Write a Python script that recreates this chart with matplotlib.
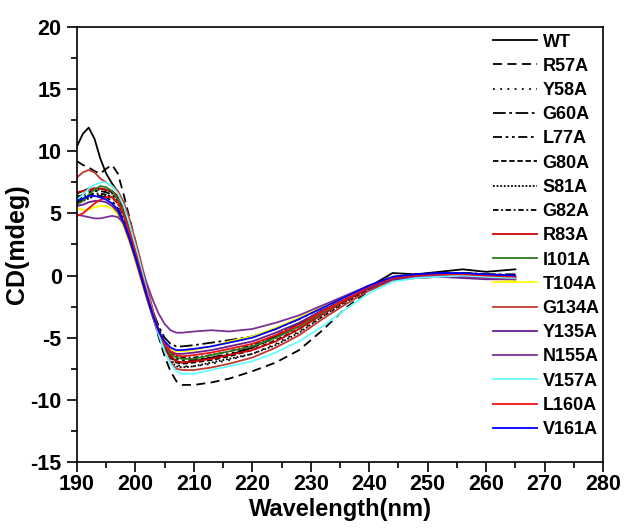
import matplotlib
matplotlib.use("Agg")
import matplotlib.pyplot as plt
from matplotlib.ticker import MultipleLocator

plt.rcParams['font.family'] = ['Liberation Sans', 'DejaVu Sans']
plt.rcParams['font.weight'] = 'bold'
plt.rcParams['axes.unicode_minus'] = False

# wavelength grid (nm)
wl = [190, 191, 192, 193, 194, 195, 196, 197, 198, 199, 200, 201, 202, 203, 204,
      205, 206, 207, 208, 210, 213, 216, 220, 224, 228, 232, 236, 240, 244, 248,
      252, 256, 260, 265]

# CD signal (mdeg) for each mutant
WT = [10.4, 11.4, 11.9, 11.0, 9.4, 8.2, 7.4, 6.7, 5.4, 3.8, 2.2, 0.5, -1.3, -3.0, -4.6,
      -5.8, -6.5, -6.9, -7.0, -6.9, -6.6, -6.4, -5.8, -4.9, -3.9, -2.8, -1.9, -0.9, 0.2, 0.1,
      0.3, 0.5, 0.3, 0.5]
R57A = [9.2, 8.9, 8.7, 8.4, 8.2, 8.6, 8.9, 8.2, 6.5, 4.6, 2.7, 0.8, -1.2, -3.2, -5.0,
        -6.5, -7.7, -8.5, -8.8, -8.8, -8.6, -8.3, -7.7, -7.0, -6.0, -4.4, -2.6, -1.2, -0.3, -0.1,
        0.0, 0.1, 0.0, -0.1]
Y58A = [6.4, 6.6, 6.8, 6.9, 6.9, 6.8, 6.6, 6.0, 5.0, 3.6, 2.0, 0.3, -1.5, -3.2, -4.8,
        -6.0, -6.8, -7.2, -7.3, -7.3, -7.1, -6.8, -6.3, -5.5, -4.5, -3.3, -2.2, -1.1, -0.3, -0.1,
        0.1, 0.2, 0.1, 0.0]
G60A = [5.9, 6.1, 6.3, 6.4, 6.4, 6.3, 6.0, 5.4, 4.4, 3.1, 1.6, 0.0, -1.5, -2.9, -4.1,
        -5.0, -5.5, -5.7, -5.7, -5.6, -5.4, -5.2, -4.9, -4.3, -3.5, -2.6, -1.7, -0.8, -0.1, 0.1,
        0.2, 0.2, 0.1, 0.1]
L77A = [6.3, 6.5, 6.7, 6.8, 6.8, 6.7, 6.5, 6.0, 5.0, 3.6, 2.0, 0.3, -1.4, -3.0, -4.5,
        -5.6, -6.3, -6.7, -6.8, -6.8, -6.6, -6.3, -5.8, -5.0, -4.1, -3.0, -2.0, -1.0, -0.2, 0.0,
        0.1, 0.2, 0.1, 0.0]
G80A = [6.6, 6.8, 7.0, 7.0, 7.0, 6.9, 6.7, 6.2, 5.2, 3.8, 2.2, 0.5, -1.3, -3.0, -4.6,
        -5.8, -6.6, -7.0, -7.1, -7.0, -6.8, -6.5, -6.0, -5.2, -4.3, -3.1, -2.0, -1.0, -0.2, 0.0,
        0.1, 0.1, 0.0, 0.0]
S81A = [5.8, 6.0, 6.2, 6.4, 6.5, 6.5, 6.3, 5.8, 4.8, 3.4, 1.8, 0.1, -1.6, -3.3, -4.9,
        -6.1, -6.9, -7.3, -7.4, -7.3, -7.0, -6.7, -6.3, -5.6, -4.6, -3.3, -2.1, -1.1, -0.3, -0.1,
        0.0, 0.1, 0.0, -0.1]
G82A = [6.1, 6.3, 6.5, 6.6, 6.6, 6.5, 6.3, 5.8, 4.8, 3.4, 1.8, 0.2, -1.4, -2.9, -4.3,
        -5.4, -6.1, -6.5, -6.6, -6.6, -6.4, -6.1, -5.6, -4.8, -3.9, -2.9, -1.9, -0.9, -0.2, 0.0,
        0.1, 0.2, 0.1, 0.0]
R83A = [6.7, 6.8, 6.9, 7.0, 7.0, 6.9, 6.8, 6.4, 5.5, 4.0, 2.4, 0.6, -1.2, -2.9, -4.5,
        -5.7, -6.5, -6.9, -7.0, -6.9, -6.7, -6.4, -6.0, -5.3, -4.3, -3.1, -2.0, -1.0, -0.3, -0.1,
        0.0, 0.1, -0.1, -0.2]
I101A = [5.7, 6.0, 6.5, 6.9, 7.2, 7.1, 6.8, 6.1, 5.0, 3.5, 1.8, 0.1, -1.6, -3.2, -4.6,
         -5.6, -6.3, -6.6, -6.7, -6.7, -6.4, -6.1, -5.7, -5.0, -4.1, -3.0, -1.9, -0.9, -0.2, -0.1,
         0.0, 0.0, -0.1, -0.1]
T104A = [5.4, 5.3, 5.3, 5.5, 5.6, 5.6, 5.4, 4.9, 3.9, 2.6, 1.1, -0.5, -2.0, -3.4, -4.6,
         -5.5, -5.9, -6.1, -6.1, -6.0, -5.7, -5.3, -4.9, -4.2, -3.4, -2.5, -1.7, -0.9, -0.2, -0.1,
         0.0, 0.0, -0.2, -0.4]
G134A = [7.9, 8.3, 8.5, 8.3, 7.8, 7.5, 7.2, 6.8, 5.9, 4.5, 2.8, 1.0, -0.9, -2.8, -4.6,
         -6.0, -7.0, -7.5, -7.6, -7.6, -7.4, -7.1, -6.6, -5.8, -4.8, -3.5, -2.3, -1.2, -0.4, -0.2,
         -0.1, 0.0, -0.1, -0.2]
Y135A = [5.6, 5.7, 5.9, 6.0, 6.0, 5.9, 5.6, 5.1, 4.1, 2.8, 1.3, -0.3, -1.9, -3.4, -4.7,
         -5.6, -6.1, -6.3, -6.3, -6.2, -6.0, -5.7, -5.3, -4.6, -3.8, -2.8, -1.9, -1.0, -0.3, -0.2,
         -0.1, -0.2, -0.3, -0.3]
N155A = [4.9, 4.8, 4.7, 4.6, 4.6, 4.7, 4.8, 4.7, 4.2, 3.3, 2.1, 0.7, -0.7, -2.0, -3.1,
         -3.9, -4.4, -4.6, -4.6, -4.5, -4.4, -4.5, -4.3, -3.8, -3.2, -2.4, -1.6, -0.8, -0.2, -0.1,
         0.0, -0.1, -0.2, -0.3]
V157A = [6.1, 6.5, 7.0, 7.3, 7.5, 7.5, 7.2, 6.6, 5.6, 4.1, 2.4, 0.6, -1.3, -3.1, -4.8,
         -6.1, -7.1, -7.7, -7.9, -7.9, -7.6, -7.3, -6.9, -6.2, -5.3, -4.1, -2.7, -1.4, -0.5, -0.2,
         -0.1, 0.0, -0.1, -0.2]
L160A = [4.8, 5.0, 5.4, 5.8, 6.1, 6.3, 6.3, 5.9, 4.9, 3.5, 1.9, 0.2, -1.5, -3.1, -4.5,
         -5.5, -6.1, -6.4, -6.5, -6.4, -6.2, -5.9, -5.5, -4.8, -4.0, -2.9, -1.9, -0.9, -0.2, 0.0,
         0.1, 0.1, 0.0, -0.1]
V161A = [6.0, 6.2, 6.4, 6.4, 6.3, 6.1, 5.8, 5.3, 4.3, 3.0, 1.5, -0.1, -1.7, -3.2, -4.5,
         -5.3, -5.8, -6.0, -6.0, -5.9, -5.7, -5.4, -5.0, -4.3, -3.5, -2.6, -1.7, -0.8, -0.1, 0.1,
         0.2, 0.2, 0.1, 0.0]

labels = ['WT', 'R57A', 'Y58A', 'G60A', 'L77A', 'G80A', 'S81A', 'G82A', 'R83A',
          'I101A', 'T104A', 'G134A', 'Y135A', 'N155A', 'V157A', 'L160A', 'V161A']
series = [WT, R57A, Y58A, G60A, L77A, G80A, S81A, G82A, R83A,
          I101A, T104A, G134A, Y135A, N155A, V157A, L160A, V161A]

styles = [
    ('black', '-'),
    ('black', (0, (5, 3))),
    ('black', (0, (1, 3))),
    ('black', (0, (7, 2, 1.5, 2))),
    ('black', (0, (5, 2, 1.5, 2, 1.5, 2))),
    ('black', (0, (3, 1.5))),
    ('black', (0, (1, 1))),
    ('black', (0, (3, 1.5, 1, 1.5))),
    ('#d40000', '-'),
    ('#2f7a1c', '-'),
    ('#ffff00', '-'),
    ('#c0392b', '-'),
    ('#6a1e8e', '-'),
    ('#7b3294', '-'),
    ('#66ffff', '-'),
    ('#ee1111', '-'),
    ('#0000ff', '-'),
]

fig = plt.figure(figsize=(6.24, 5.29), dpi=100)
ax = fig.add_axes([0.1234, 0.1267, 0.8429, 0.8223])

for lab, y, (c, ls) in zip(labels, series, styles):
    ax.plot(wl, y, color=c, linestyle=ls, lw=1.3, label=lab)

ax.set_xlim(190, 280)
ax.set_ylim(-15, 20)
ax.xaxis.set_major_locator(MultipleLocator(10))
ax.xaxis.set_minor_locator(MultipleLocator(5))
ax.yaxis.set_major_locator(MultipleLocator(5))
ax.yaxis.set_minor_locator(MultipleLocator(2.5))
ax.tick_params(which='major', direction='out', length=7, width=1.2, labelsize=15.5)
ax.tick_params(axis='x', which='major', pad=2)
ax.tick_params(axis='y', which='major', pad=4)
ax.tick_params(which='minor', direction='out', length=4, width=1.2)
for lbl in ax.get_xticklabels() + ax.get_yticklabels():
    lbl.set_fontweight('bold')
for sp in ax.spines.values():
    sp.set_linewidth(1.2)

ax.set_xlabel('Wavelength(nm)', fontsize=17, fontweight='bold', labelpad=2)
ax.set_ylabel('CD(mdeg)', fontsize=18, fontweight='bold', labelpad=1)

leg = ax.legend(loc='upper left', bbox_to_anchor=(0.79, 0.985), frameon=False,
                fontsize=13, handlelength=2.45, handletextpad=0.33,
                labelspacing=0.40, borderpad=0, borderaxespad=0)
for t in leg.get_texts():
    t.set_fontweight('bold')

fig.savefig('out.png', dpi=100)
